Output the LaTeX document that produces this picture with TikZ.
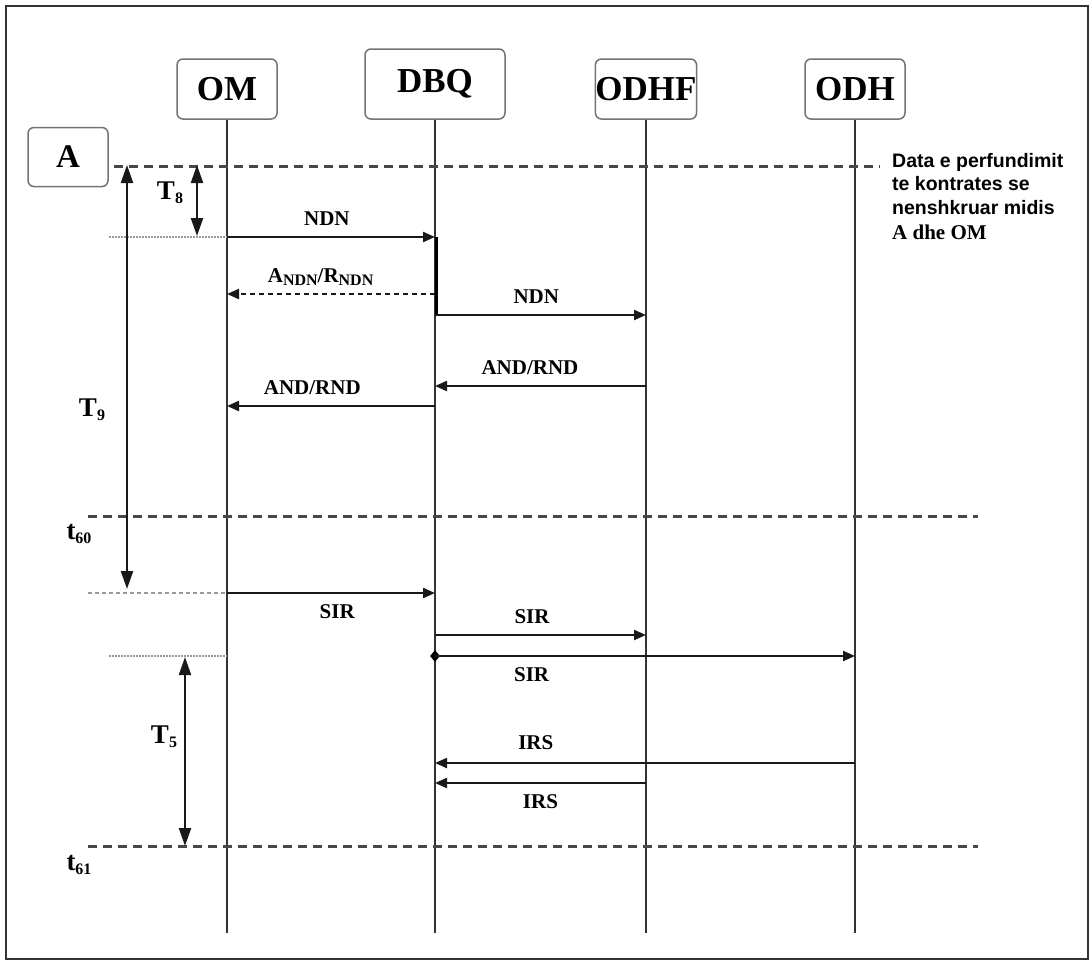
\documentclass[tikz,border=0pt]{standalone}
\usepackage{fontspec}
\setmainfont{Liberation Serif}
\newfontfamily\notefont{Liberation Sans}
\usepackage{tikz}
\usetikzlibrary{arrows.meta, positioning, shapes.geometric, calc}

\newcommand{\lowsub}[1]{\raisebox{-0.3ex}{\fontsize{16}{16}\selectfont #1}}

\begin{document}
\begin{tikzpicture}[
		x=1pt, y=-1pt,
		actor/.style={rectangle, draw=black!55, line width=1.5pt, rounded corners=6pt, minimum width=100pt, minimum height=60pt, inner xsep=0pt, font=\fontsize{35}{35}\selectfont\bfseries},
		life/.style={line width=2pt, draw=black!80},
		msg/.style={-{Triangle[length=12pt,width=10pt]}, line width=2.2pt, draw=black!90},
		reply/.style={msg, dash pattern=on 5pt off 4pt},
		period/.style={{Triangle[length=18pt,width=12pt]}-{Triangle[length=18pt,width=12pt]}, line width=2.2pt, draw=black!90},
		cut/.style={line width=3pt, draw=black!72, dash pattern=on 9pt off 6pt},
		guide/.style={line width=1.4pt, draw=black!40, dash pattern=on 1.5pt off 1.5pt},
		lbl/.style={font=\fontsize{21}{21}\selectfont\bfseries, text height=14pt, text depth=0pt},
		tlbl/.style={font=\fontsize{27}{27}\selectfont\bfseries},
		note/.style={align=left, inner sep=0pt, font=\notefont\bfseries\fontsize{19.5}{23.5}\selectfont}
		]
		
		\useasboundingbox (0,0) rectangle (1092,962);
		\draw[line width=2pt, black!80] (6,6) rectangle (1088,959);
		
		% Participants
		\node[actor] (OM) at (227,89) {OM};
		\node[actor, minimum width=140pt, minimum height=70pt] (DBQ) at (435,84) {DBQ};
		\node[actor] (ODHF) at (646,89) {ODHF};
		\node[actor] (ODH) at (855,89) {ODH};
		\node[actor, minimum width=80pt, minimum height=59pt, font=\fontsize{33}{33}\selectfont\bfseries] (A) at (68,157) {A};
		
		% Lifelines
		\coordinate (bottom) at (0,933);
		\foreach \p in {OM,DBQ,ODHF,ODH} {
			\draw[life] (\p.south) -- (\p.south |- bottom);
		}
		
		% Time levels
		\foreach \n/\y in {top/166, ndn/237, andn/294, ndn2/315, rnd/386, rnd2/406, t60/516, sir/593, sir2/635, sir3/656, irs/763, irs2/783, t61/846} {
			\coordinate (y-\n) at (0,\y);
		}
		\coordinate (cut-l) at (88,0);
		\coordinate (cut-r) at (978,0);
		\coordinate (guide-l) at (109,0);
		
		% Contract date
		\node[note, anchor=north west] (note) at (892,153) {Data e perfundimit\\te kontrates se\\nenshkruar midis\\[1.5pt]{\rmfamily\fontsize{21}{21}\selectfont A dhe OM}};
		\draw[cut] ($(A.east |- y-top)+(5,0)$) -- ($(note.west |- y-top)+(-12,0)$);
		
		% Separators t60 and t61
		\draw[cut] (cut-l |- y-t60) -- (cut-r |- y-t60);
		\node[tlbl] (t60) at (79,534) {t\lowsub{60}};
		\draw[cut] (cut-l |- y-t61) -- (cut-r |- y-t61);
		\node[tlbl] (t61) at (79,865) {t\lowsub{61}};
		
		% Guides
		\draw[guide] (guide-l |- y-ndn) -- (OM |- y-ndn);
		\draw[guide, dash pattern=on 4pt off 3pt] (cut-l |- y-sir) -- (OM |- y-sir);
		\draw[guide] (guide-l |- y-sir3) -- (OM |- y-sir3);
		
		% Periods
		\coordinate (T8-a) at (197,165);
		\coordinate (T8-b) at (197,236);
		\draw[period] (T8-a) -- (T8-b);
		\node[tlbl] (T8) at (170,193) {T\lowsub{8}};
		
		\coordinate (T9-a) at (127,165);
		\coordinate (T9-b) at (127,589);
		\draw[period] (T9-a) -- (T9-b);
		\node[tlbl] (T9) at (92,410) {T\lowsub{9}};
		
		\coordinate (T5-a) at (185,657);
		\coordinate (T5-b) at (185,846);
		\draw[period] (T5-a) -- (T5-b);
		\node[tlbl] (T5) at (164,737) {T\lowsub{5}};
		
		% Messages
		\draw[msg] (OM |- y-ndn) -- node[lbl, above=7pt, pos=.48] {NDN} (DBQ |- y-ndn);
		\draw[line width=3.8pt] ($(DBQ |- y-ndn)+(1.5,0)$) -- ($(DBQ |- y-ndn2)+(1.5,0)$);
		\draw[reply] (DBQ |- y-andn) -- node[lbl, above=7pt, pos=.55] {A\lowsub{NDN}/R\lowsub{NDN}} (OM |- y-andn);
		\draw[msg] (DBQ |- y-ndn2) -- node[lbl, above=7pt, pos=.48] {NDN} (ODHF |- y-ndn2);
		\draw[msg] (ODHF |- y-rnd) -- node[lbl, above=7pt, pos=.55] {AND/RND} (DBQ |- y-rnd);
		\draw[msg] (DBQ |- y-rnd2) -- node[lbl, above=7pt, pos=.59] {AND/RND} (OM |- y-rnd2);
		
		\draw[msg] (OM |- y-sir) -- node[lbl, below=7pt, pos=.53] {SIR} (DBQ |- y-sir);
		\draw[msg] (DBQ |- y-sir2) -- node[lbl, above=7pt, pos=.46] {SIR} (ODHF |- y-sir2);
		\node[diamond, fill=black, inner sep=0pt, minimum width=10pt, minimum height=12pt] (sirdot) at (DBQ |- y-sir3) {};
		\draw[msg] (sirdot.center) -- node[lbl, below=7pt, pos=.23] {SIR} (ODH |- y-sir3);
		\draw[msg] (ODH |- y-irs) -- node[lbl, above=9pt, pos=.76] {IRS} (DBQ |- y-irs);
		\draw[msg] (ODHF |- y-irs2) -- node[lbl, below=7pt, pos=.5] {IRS} (DBQ |- y-irs2);
		
	\end{tikzpicture}
\end{document}
